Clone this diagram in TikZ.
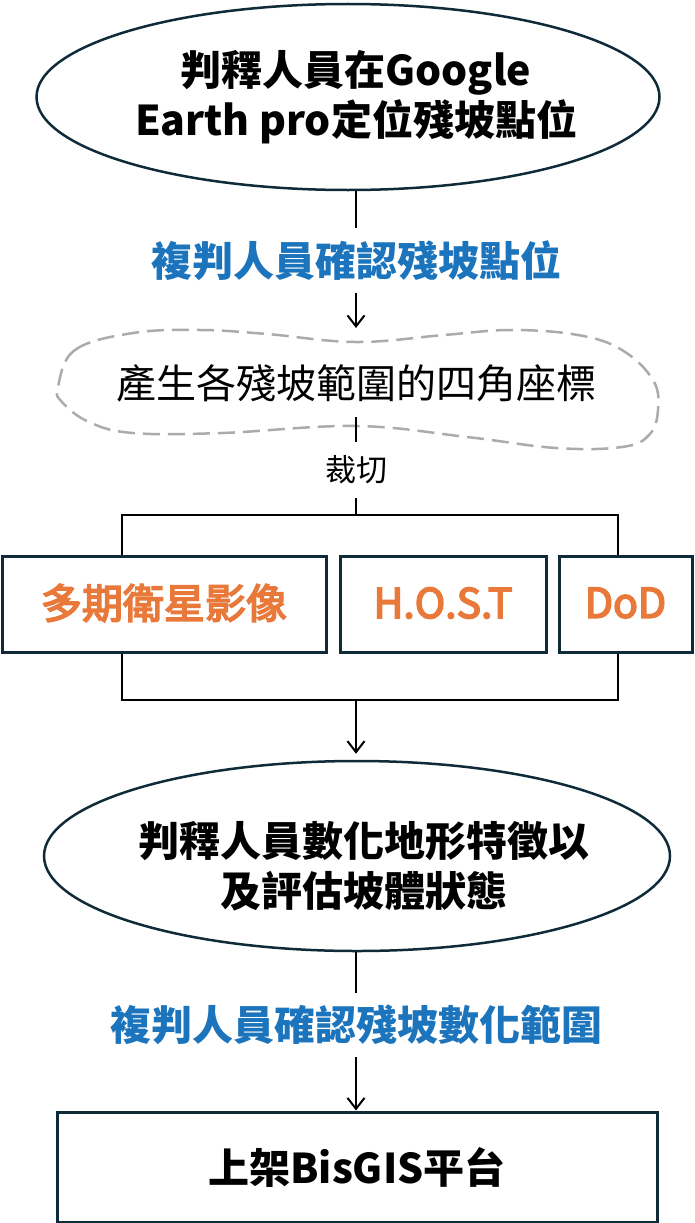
\documentclass[tikz,border=0pt]{standalone}
\usepackage{fontspec}
\setmainfont{Noto Sans CJK TC}
\newfontfamily\orfont[FakeBold=4]{Noto Sans CJK TC}
\usetikzlibrary{shapes.geometric,arrows.meta}
\definecolor{navy}{HTML}{0F2B3A}
\definecolor{cblue}{HTML}{1C75BC}
\definecolor{corange}{HTML}{E8793A}
\definecolor{cgray}{HTML}{ABABAB}
\begin{document}
\begin{tikzpicture}[x=1pt,y=-1pt,
  ell/.style={ellipse,draw=navy,line width=2.5pt,inner sep=0pt},
  bigtxt/.style={align=center,inner sep=0pt,font=\fontsize{41}{50}\selectfont\bfseries},
  bluetxt/.style={text=cblue,inner sep=0pt,minimum height=64pt,font=\fontsize{41}{50}\selectfont\bfseries},
  boxnode/.style={rectangle,draw=navy,line width=3pt,inner sep=0pt},
  orangetxt/.style={text=corange,font=\fontsize{41}{50}\selectfont\orfont},
  conn/.style={line width=2pt,black},
  arr/.style={conn,-{Straight Barb[length=11pt,width=17pt]}},
  cloudline/.style={draw=cgray,line width=2.5pt,dash pattern=on 17pt off 8pt}
]
\useasboundingbox (0,0) rectangle (694,1223);

% top ellipse
\node[ell,minimum width=623pt,minimum height=186pt] (e1) at (348,97) {};
\node[bigtxt] (e1t) at (356,97) {判釋人員在Google\\Earth pro定位殘坡點位};

% label 1
\node[bluetxt] (lab1) at (356,260.5) {複判人員確認殘坡點位};
\coordinate (ctop) at (356,328);

% cloud
\draw[cloudline] plot[smooth cycle,tension=0.65] coordinates {
 (58,387) (75,350) (133,333) (200,330) (267,334) (356,342) (444,335) (511,330)
 (578,335) (622,350) (653,380) (658,410) (649,435) (622,447) (556,448) (467,437)
 (356,426) (222,433) (133,433) (89,422) (62,402)};
\node[inner sep=0pt,font=\fontsize{40}{50}\selectfont] (cloudt) at (356,383) {產生各殘坡範圍的四角座標};
\coordinate (cbot) at (356,417);

% cut label
\node[inner sep=0pt,minimum height=56pt,font=\fontsize{31}{36}\selectfont] (cut) at (356,470) {裁切};
\coordinate (j1) at (356,515);
\coordinate (tl) at (122,515);
\coordinate (tr) at (618,515);

% boxes
\node[boxnode,minimum width=324pt,minimum height=96pt] (b1) at (164,604) {};
\node[boxnode,minimum width=206pt,minimum height=96pt] (b2) at (443,604) {};
\node[boxnode,minimum width=133pt,minimum height=96pt] (b3) at (625.5,604) {};
\node[orangetxt] (b1t) at (164,603) {多期衛星影像};
\node[orangetxt] (b2t) at (443,603) {H.O.S.T};
\node[orangetxt] (b3t) at (625.5,603) {DoD};

\coordinate (bl) at (122,700);
\coordinate (br) at (618,700);
\coordinate (j2) at (356,700);

% second ellipse
\node[ell,minimum width=626pt,minimum height=190pt] (e2) at (357,856) {};
\node[bigtxt] (e2t) at (364,866) {判釋人員數化地形特徵以\\及評估坡體狀態};

% label 2
\node[bluetxt] (lab2) at (356,1025) {複判人員確認殘坡數化範圍};

% bottom box
\node[boxnode,minimum width=600pt,minimum height=110pt] (b4) at (357,1167) {};
\node[bigtxt] (b4t) at (357,1167) {上架BisGIS平台};

% connectors
\draw[conn] (e1.south -| lab1) -- (lab1.north);
\draw[arr] (lab1.south) -- (ctop);
\draw[conn] (cbot) -- (cut.north);
\draw[conn] (cut.south) -- (j1);
\draw[conn] (tl |- b1.north) -- (tl) -- (tr) -- (tr |- b3.north);
\draw[conn] (bl |- b1.south) -- (bl) -- (br) -- (br |- b3.south);
\draw[arr,shorten >=6pt] (j2) -- (e2.north -| j2);
\draw[conn] (e2.south -| lab2) -- (lab2.north);
\draw[arr] (lab2.south) -- (b4.north -| lab2);
\end{tikzpicture}
\end{document}
